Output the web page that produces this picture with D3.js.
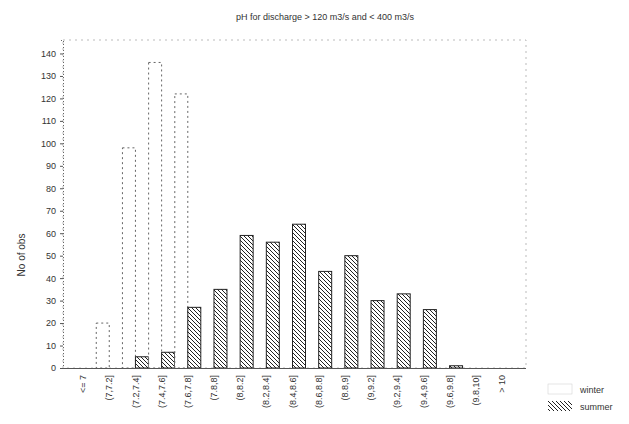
<!DOCTYPE html>
<html>
<head>
<meta charset="utf-8">
<script src="https://cdn.jsdelivr.net/npm/d3@7/dist/d3.min.js"></script>
<style>
  body { margin: 0; background: #fff; }
  text { font-family: "Liberation Sans", Arial, sans-serif; fill: #333; }
</style>
</head>
<body>
<div id="chart"></div>
<script>
const categories = ["<= 7", "(7,7.2]", "(7.2,7.4]", "(7.4,7.6]", "(7.6,7.8]", "(7.8,8]", "(8,8.2]",
    "(8.2,8.4]", "(8.4,8.6]", "(8.6,8.8]", "(8.8,9]", "(9,9.2]", "(9.2,9.4]", "(9.4,9.6]",
    "(9.6,9.8]", "(9.8,10]", "> 10"];
const winterValues = [0, 20, 98, 136, 122, 0, 0, 0, 0, 0, 0, 0, 0, 0, 0, 0, 0];
const summerValues = [0, 0, 5, 7, 27, 35, 59, 56, 64, 43, 50, 30, 33, 26, 1, 0, 0];
const seriesNames = ["winter", "summer"];
const yTicks = [0, 10, 20, 30, 40, 50, 60, 70, 80, 90, 100, 110, 120, 130, 140];

const W = 629, H = 424;
const plot = { left: 63, right: 526, top: 40, bottom: 368 };

const svg = d3.select("#chart").append("svg")
    .attr("width", W)
    .attr("height", H);

// hatch pattern for summer
const defs = svg.append("defs");
const pat = defs.append("pattern")
    .attr("id", "hatch")
    .attr("patternUnits", "userSpaceOnUse")
    .attr("width", 4)
    .attr("height", 4);
pat.append("rect").attr("width", 4).attr("height", 4).attr("fill", "#fff");
pat.append("path")
    .attr("d", "M-1,-1 L5,5 M-1,3 L1,5 M3,-1 L5,1")
    .attr("stroke", "#222")
    .attr("stroke-width", 1);

const x = d3.scaleBand()
    .domain(categories)
    .range([70, 515])
    .paddingInner(0)
    .paddingOuter(0);

const y = d3.scaleLinear()
    .domain([0, 146])
    .range([plot.bottom, plot.top]);

const barW = 13;

// title
svg.append("text")
    .attr("x", 325)
    .attr("y", 20)
    .attr("text-anchor", "middle")
    .style("font-size", "9px")
    .attr("fill", "#444")
    .text("pH for discharge > 120 m3/s and < 400 m3/s");

// plot frame (faint)
svg.append("rect")
    .attr("x", plot.left)
    .attr("y", plot.top)
    .attr("width", plot.right - plot.left)
    .attr("height", plot.bottom - plot.top)
    .attr("fill", "none")
    .attr("stroke", "#bbb")
    .attr("stroke-dasharray", "2,4");

// y axis
const yAxis = svg.append("g")
    .attr("transform", `translate(${plot.left},0)`)
    .call(d3.axisLeft(y).tickValues(yTicks).tickSize(3).tickPadding(4));
yAxis.select(".domain").attr("stroke", "#666").attr("stroke-dasharray", "1,2");
yAxis.selectAll(".tick line").attr("stroke", "#555");
yAxis.selectAll("text").style("font-size", "9px").attr("fill", "#333");

svg.append("text")
    .attr("transform", "rotate(-90)")
    .attr("x", -255)
    .attr("y", 25)
    .attr("text-anchor", "middle")
    .style("font-size", "10px")
    .text("No of obs");

// bars
const groups = svg.append("g").selectAll("g")
    .data(categories)
    .join("g");

groups.append("rect")
    .attr("x", (d, i) => x(d) + x.bandwidth() / 2 - barW)
    .attr("y", (d, i) => y(winterValues[i]))
    .attr("width", barW)
    .attr("height", (d, i) => y(0) - y(winterValues[i]))
    .attr("fill", "#fff")
    .attr("stroke", "#666")
    .attr("stroke-width", 1)
    .attr("stroke-dasharray", "2,3")
    .style("display", (d, i) => winterValues[i] > 0 ? null : "none");

groups.append("rect")
    .attr("x", (d, i) => x(d) + x.bandwidth() / 2)
    .attr("y", (d, i) => y(summerValues[i]))
    .attr("width", barW)
    .attr("height", (d, i) => y(0) - y(summerValues[i]))
    .attr("fill", "url(#hatch)")
    .attr("stroke", "#222")
    .attr("stroke-width", 1)
    .style("display", (d, i) => summerValues[i] > 0 ? null : "none");

// x axis
const xAxis = svg.append("g")
    .attr("transform", `translate(0,${plot.bottom})`)
    .call(d3.axisBottom(x).tickSize(0).tickPadding(6));
xAxis.select(".domain")
    .attr("d", `M${plot.left},0.5H${plot.right}`)
    .attr("stroke", "#555");
xAxis.selectAll("text")
    .style("font-size", "9px")
    .attr("fill", "#333")
    .attr("transform", "rotate(-90)")
    .attr("text-anchor", "end")
    .attr("x", -7)
    .attr("y", 0)
    .attr("dy", "0.35em");

// legend
const legend = svg.append("g").attr("transform", "translate(548,384)");
seriesNames.forEach((name, i) => {
    const g = legend.append("g").attr("transform", `translate(0,${i * 17})`);
    g.append("rect")
        .attr("width", 24)
        .attr("height", 10)
        .attr("fill", i === 0 ? "#fff" : "url(#hatch)")
        .attr("stroke", i === 0 ? "#ccc" : "#333")
        .attr("stroke-width", i === 0 ? 0.5 : 0);
    g.append("text")
        .attr("x", 32)
        .attr("y", 9)
        .style("font-size", "9px")
        .text(name);
});
</script>
</body>
</html>
